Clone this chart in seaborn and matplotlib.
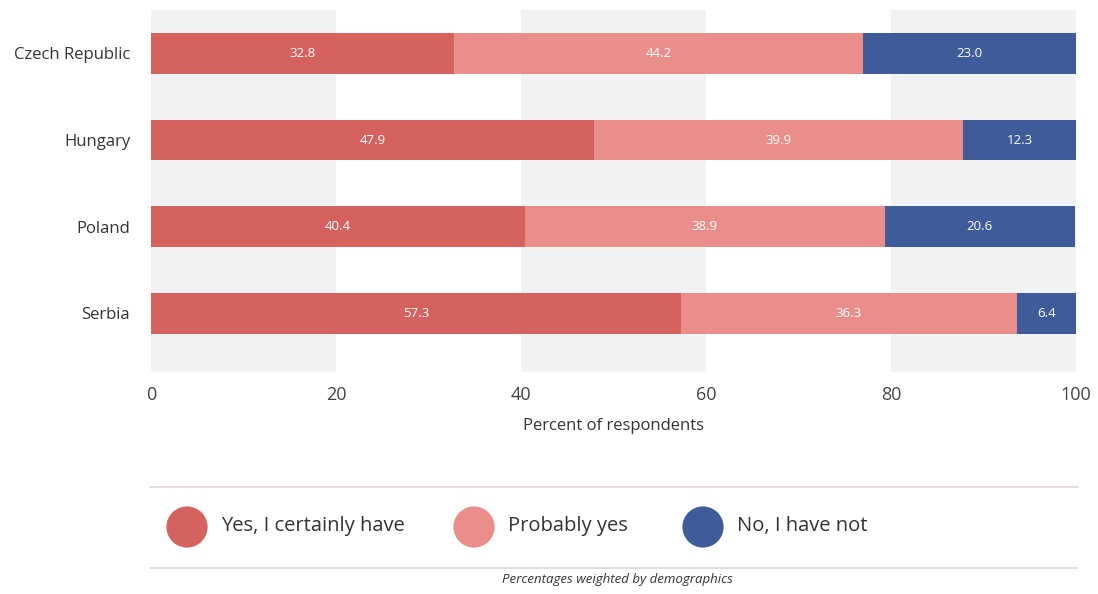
import numpy as np
import pandas as pd
import matplotlib
matplotlib.use("Agg")
import matplotlib.pyplot as plt
import seaborn as sns

# Data
countries = ["Czech Republic", "Hungary", "Poland", "Serbia"]
yes_certainly = [32.8, 47.9, 40.4, 57.3]
probably_yes = [44.2, 39.9, 38.9, 36.3]
have_not = [23.0, 12.3, 20.6, 6.4]
series_names = ["Yes, I certainly have", "Probably yes", "No, I have not"]
colors = ["#d6625f", "#ea8e8b", "#3f5b9a"]
xticks = [0, 20, 40, 60, 80, 100]

sns.set_theme(style="white")
plt.rcParams["font.family"] = ["Open Sans", "DejaVu Sans"]

df = pd.DataFrame({
    "country": countries,
    "s1": yes_certainly,
    "s2": probably_yes,
    "s3": have_not,
})
df["c1"] = df["s1"]
df["c2"] = df["s1"] + df["s2"]
df["c3"] = df["s1"] + df["s2"] + df["s3"]

fig = plt.figure(figsize=(10.98, 5.94), dpi=100)
ax = fig.add_axes([151 / 1098, 1 - 372 / 594, (1076 - 151) / 1098, 362 / 594])

# alternating background bands
for i, x0 in enumerate(xticks[:-1]):
    if i % 2 == 0:
        ax.axvspan(x0, xticks[i + 1], color="#f1f2f4", zorder=0, lw=0)

# stacked bars: draw cumulative totals back to front
for col, c in zip(["c3", "c2", "c1"], colors[::-1]):
    sns.barplot(data=df, x=col, y="country", color=c, orient="h",
                width=0.47, ax=ax, zorder=2, saturation=1, linewidth=0)

# value labels
for i, row in df.iterrows():
    starts = [0, row["c1"], row["c2"]]
    for s, v in zip(starts, [row["s1"], row["s2"], row["s3"]]):
        ax.text(s + v / 2, i, f"{v:.1f}", ha="center", va="center",
                color="white", fontsize=9.5, zorder=3)

ax.set_xlim(0, 100)
ax.set_ylim(3.675, -0.5)
ax.set_xticks(xticks)
ax.set_xticklabels([str(t) for t in xticks], fontsize=13, color="#444444")
ax.tick_params(axis="x", length=0, pad=10)
ax.tick_params(axis="y", length=0, pad=15, labelsize=12, labelcolor="#333333")
ax.set_ylabel("")
ax.set_xlabel("Percent of respondents", fontsize=12, color="#333333", labelpad=10)
for sp in ax.spines.values():
    sp.set_visible(False)

# legend overlay in pixel coordinates
lax = fig.add_axes([0, 0, 1, 1])
lax.set_xlim(0, 1098)
lax.set_ylim(594, 0)
lax.axis("off")
lax.plot([150, 1078], [487, 487], color="#e2d6d8", lw=1.2)
lax.plot([150, 1078], [568, 568], color="#e2d6d8", lw=1.2)
marker_x = [187, 474, 703]
for mx, name, c in zip(marker_x, series_names, colors):
    lax.scatter([mx], [527], s=880, color=c, edgecolors="none")
    lax.text(mx + 34, 526, name, fontsize=14.5, va="center", ha="left", color="#333333")
lax.text(617, 580, "Percentages weighted by demographics", fontsize=9.5,
         style="italic", ha="center", va="center", color="#333333")

fig.savefig("out.png", dpi=100, facecolor="white")
